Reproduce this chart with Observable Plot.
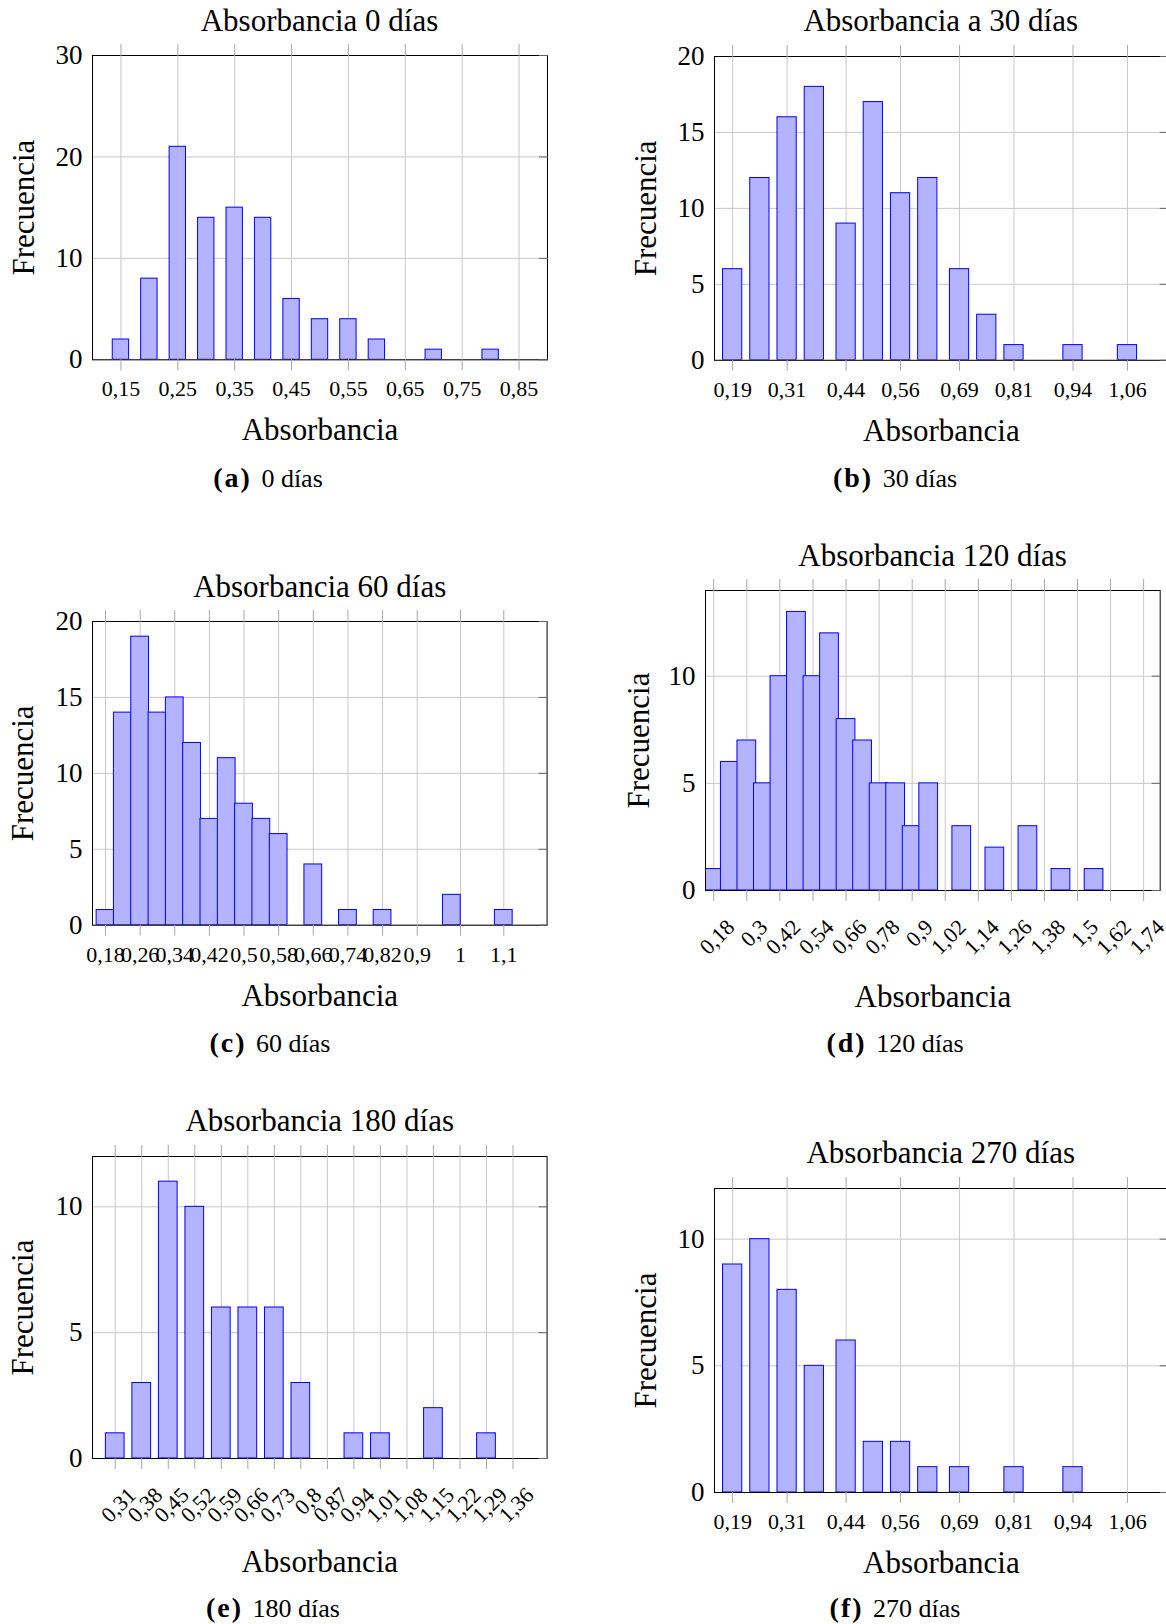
<!DOCTYPE html>
<html><head><meta charset="utf-8">
<script src="https://cdn.jsdelivr.net/npm/d3@7"></script>
<script src="https://cdn.jsdelivr.net/npm/@observablehq/plot@0.6"></script>
<style>
html,body{margin:0;padding:0;background:#fff;overflow:hidden;}
#root{position:relative;width:1166px;height:1624px;overflow:hidden;font-family:'Liberation Serif',serif;color:#000;background:#fff;}
.t{position:absolute;transform:translate(-50%,-50%);white-space:nowrap;line-height:1;}
.title{font-size:31px;}
.cap{font-size:26px;}
.cap b{font-size:28px;letter-spacing:2px;margin-right:3px;}
svg{position:absolute;}
</style>
</head><body><div id="root"></div>
<script>
// ---- data ----
const binsA = [0.15,0.20,0.25,0.30,0.35,0.40,0.45,0.50,0.55,0.60,0.65,0.70,0.75,0.80];
const countsA = [2,8,21,14,15,14,6,4,4,2,0,1,0,1];
const ticksA = [0.15,0.25,0.35,0.45,0.55,0.65,0.75,0.85];

const binsB = [0.19,0.25,0.31,0.37,0.44,0.50,0.56,0.62,0.69,0.75,0.81,0.87,0.94,1.00,1.06];
const countsB = [6,12,16,18,9,17,11,12,6,3,1,0,1,0,1];
const ticksB = [0.19,0.31,0.44,0.56,0.69,0.81,0.94,1.06];

const binsC = [0.18,0.22,0.26,0.30,0.34,0.38,0.42,0.46,0.50,0.54,0.58,0.62,0.66,0.70,0.74,0.78,0.82,0.86,0.90,0.94,0.98,1.02,1.06,1.10];
const countsC = [1,14,19,14,15,12,7,11,8,7,6,0,4,0,1,0,1,0,0,0,2,0,0,1];
const ticksC = [0.18,0.26,0.34,0.42,0.5,0.58,0.66,0.74,0.82,0.9,1,1.1];

const binsD = [0.18,0.24,0.30,0.36,0.42,0.48,0.54,0.60,0.66,0.72,0.78,0.84,0.90,0.96,1.02,1.08,1.14,1.20,1.26,1.32,1.38,1.44,1.50,1.56];
const countsD = [1,6,7,5,10,13,10,12,8,7,5,5,3,5,0,3,0,2,0,3,0,1,0,1];
const ticksD = [0.18,0.3,0.42,0.54,0.66,0.78,0.9,1.02,1.14,1.26,1.38,1.5,1.62,1.74];

const binsE = [0.31,0.38,0.45,0.52,0.59,0.66,0.73,0.80,0.87,0.94,1.01,1.08,1.15,1.22,1.29];
const countsE = [1,3,11,10,6,6,6,3,0,1,1,0,2,0,1];
const ticksE = [0.31,0.38,0.45,0.52,0.59,0.66,0.73,0.8,0.87,0.94,1.01,1.08,1.15,1.22,1.29,1.36];

const binsF = [0.19,0.25,0.31,0.37,0.44,0.50,0.56,0.62,0.69,0.75,0.81,0.87,0.94,1.00,1.06];
const countsF = [9,10,8,5,6,2,2,1,1,0,1,0,1,0,0];
const ticksF = [0.19,0.31,0.44,0.56,0.69,0.81,0.94,1.06];

const titles = ["Absorbancia 0 días","Absorbancia a 30 días","Absorbancia 60 días","Absorbancia 120 días","Absorbancia 180 días","Absorbancia 270 días"];
const letters = ["(a)","(b)","(c)","(d)","(e)","(f)"];
const captions = ["0 días","30 días","60 días","120 días","180 días","270 días"];
const xLabel = "Absorbancia";
const yLabel = "Frecuencia";

// ---- layout ----
const panels = [
  {bins:binsA, counts:countsA, xTicks:ticksA, yTicks:[0,10,20,30], xDomain:[0.10,0.90], yDomain:[0,30], hw:0.0144,
   L:92, R:547, T:55, B:359.3, titleY:19.7, capX:268, capY:477.5, rot:0},
  {bins:binsB, counts:countsB, xTicks:ticksB, yTicks:[0,5,10,15,20], xDomain:[0.15,1.15], yDomain:[0,20], hw:0.0212,
   L:713.8, R:1167.6, T:55.5, B:359.3, titleY:19.7, capX:895, capY:477.5, rot:0},
  {bins:binsC, counts:countsC, xTicks:ticksC, yTicks:[0,5,10,15,20], xDomain:[0.15,1.2], yDomain:[0,20], hw:0.0205,
   L:92.4, R:547, T:621.3, B:925, titleY:586, capX:270, capY:1043, rot:0},
  {bins:binsD, counts:countsD, xTicks:ticksD, yTicks:[0,5,10], xDomain:[0.15,1.8], yDomain:[0,14], hw:0.034,
   L:705.3, R:1160, T:589.5, B:889.5, titleY:555, capX:895, capY:1043, rot:-45},
  {bins:binsE, counts:countsE, xTicks:ticksE, yTicks:[0,5,10], xDomain:[0.25,1.45], yDomain:[0,12], hw:0.0247,
   L:92.4, R:547, T:1156, B:1458, titleY:1120, capX:273, capY:1608, rot:-45},
  {bins:binsF, counts:countsF, xTicks:ticksF, yTicks:[0,5,10], xDomain:[0.15,1.15], yDomain:[0,12], hw:0.0212,
   L:713.8, R:1167.6, T:1187.5, B:1491.5, titleY:1151.5, capX:895, capY:1608, rot:0}
];
const xLabelY = [420.5, 420.5, 987, 987, 1552.5, 1552.5];
const yLabelX = [23, 645, 23, 639, 23, 645];

const root = document.getElementById("root");
const fmt = v => String(v).replace(".", ",");

panels.forEach((p, i) => {
  const mL = 100, mT = 20, mR = 5, mB = 150;
  const data = p.bins.map((x, j) => ({x, n: p.counts[j]})).filter(d => d.n > 0);
  const yOff = p.L + 11.8 - yLabelX[i];
  const xOff = xLabelY[i] - p.B + 19.2;
  const svg = Plot.plot({
    width: mL + (p.R - p.L) + mR,
    height: mT + (p.B - p.T) + mB,
    marginLeft: mL, marginRight: mR, marginTop: mT, marginBottom: mB,
    style: {fontFamily: "'Liberation Serif', serif", color: "black", background: "transparent", overflow: "visible"},
    x: {domain: p.xDomain},
    y: {domain: p.yDomain},
    marks: [
      Plot.gridX(p.xTicks, {stroke: "#c8c8c8", strokeOpacity: 1}),
      Plot.gridY(p.yTicks, {stroke: "#c8c8c8", strokeOpacity: 1}),
      Plot.rectY(data, {x1: d => d.x - p.hw, x2: d => d.x + p.hw, y: "n", fill: "#b3b3ff", stroke: "#0000ff", strokeWidth: 1, clip: true}),
      Plot.frame({stroke: "black"}),
      Plot.axisX(p.xTicks, {anchor: "top", tickSize: 12, fill: "none", stroke: "#a8a8a8"}),
      Plot.axisX(p.xTicks, {anchor: "bottom", tickSize: 11, fill: "none", stroke: "#a8a8a8"}),
      Plot.axisX(p.xTicks, p.rot
        ? {anchor: "bottom", tickSize: 0, tickPadding: 33, tickRotate: p.rot, dx: 17, tickFormat: fmt, fontSize: 22, label: null}
        : {anchor: "bottom", tickSize: 0, tickPadding: 21, tickFormat: fmt, fontSize: 22, label: null}),
      Plot.axisX([], {anchor: "bottom", tickSize: 0, label: xLabel, labelAnchor: "center", labelOffset: xOff, labelArrow: "none", fontSize: 31}),
      Plot.axisY(p.yTicks, {anchor: "left", tickSize: 0, tickPadding: 10, fontSize: 27, label: null}),
      Plot.axisY([], {anchor: "left", tickSize: 0, label: yLabel, labelAnchor: "center", labelOffset: yOff, labelArrow: "none", fontSize: 31}),
      Plot.axisY(p.yTicks, {anchor: "right", tickSize: -9, fill: "none", stroke: "#666"})
    ]
  });
  svg.style.left = (p.L - mL) + "px";
  svg.style.top = (p.T - mT) + "px";
  root.appendChild(svg);

  const t = document.createElement("div");
  t.className = "t title";
  t.style.left = ((p.L + p.R) / 2) + "px";
  t.style.top = p.titleY + "px";
  t.textContent = titles[i];
  root.appendChild(t);

  const c = document.createElement("div");
  c.className = "t cap";
  c.style.left = p.capX + "px";
  c.style.top = p.capY + "px";
  const b = document.createElement("b");
  b.textContent = letters[i];
  c.appendChild(b);
  c.appendChild(document.createTextNode(" " + captions[i]));
  root.appendChild(c);
});
</script>
</body></html>
